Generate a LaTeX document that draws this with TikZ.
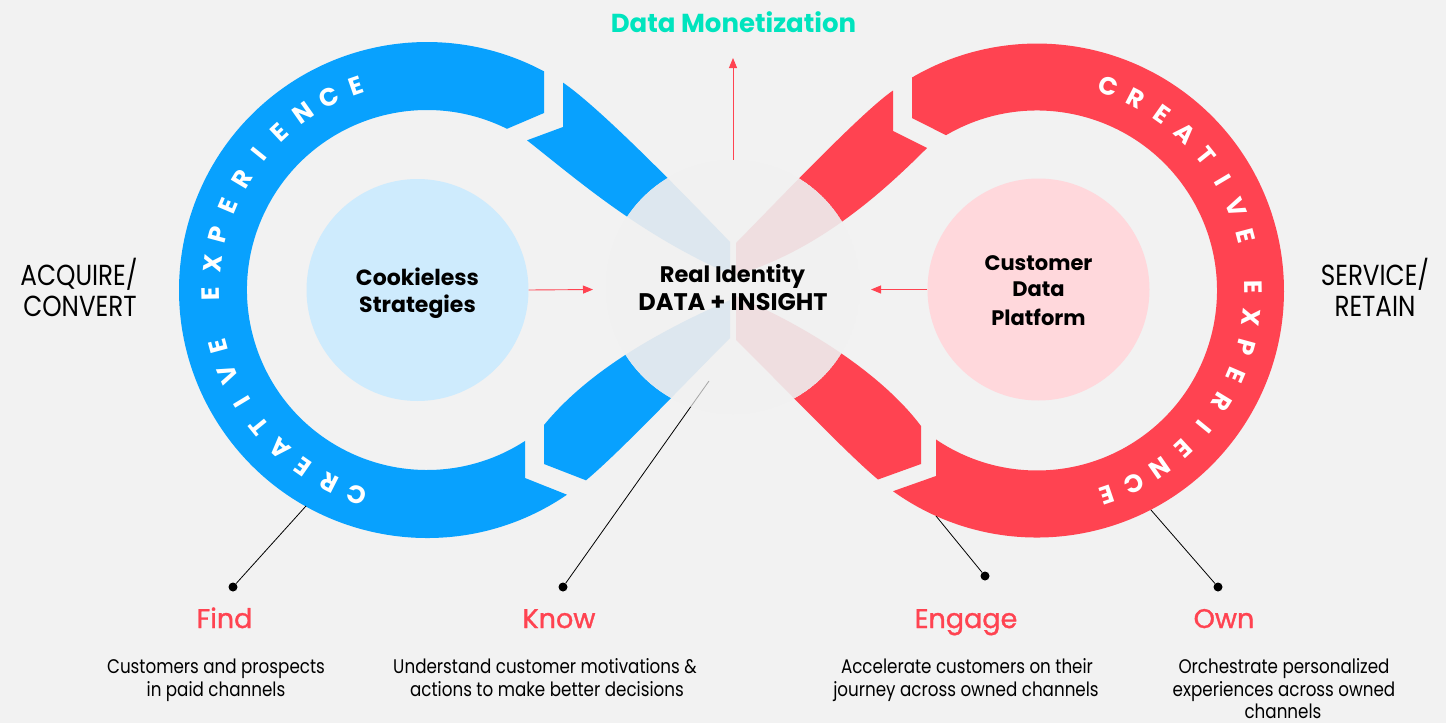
\documentclass[tikz,border=0pt]{standalone}
\usepackage{fontspec}
\setmainfont{Poppins}
\newfontfamily\condfont{Poppins}[FakeStretch=0.85]
\newfontfamily\medfont{Poppins}[FakeBold=1.2]
\usetikzlibrary{arrows.meta,calc}
\definecolor{bgc}{RGB}{242,242,242}
\definecolor{bluec}{RGB}{8,161,254}
\definecolor{redc}{RGB}{255,67,81}
\definecolor{lightbluec}{RGB}{206,235,253}
\definecolor{pinkc}{RGB}{255,216,220}
\definecolor{tealc}{RGB}{0,228,190}
\definecolor{fadeblue}{RGB}{221,231,239}
\definecolor{fadered}{RGB}{239,222,224}
\definecolor{hubc}{RGB}{241,241,241}
\newcommand\bandLT{(563,-82.6) -- (563,-127) -- (527,-140.3) .. controls (575,-178) and (640,-235) .. (730,-274) -- (730,-242) .. controls (680,-190) and (600,-108) .. (563,-82.6) -- cycle}
\newcommand\bandLB{(544,-425) -- (544,-464) -- (586,-480.3) .. controls (620,-452) and (690,-378) .. (730,-338) -- (730,-300) .. controls (650,-335) and (585,-375) .. (544,-425) -- cycle}
\newcommand\bandRT{(893,-90.5) -- (893,-131) -- (927,-148) .. controls (885,-190) and (820,-250) .. (736,-275) -- (736,-243) .. controls (786,-192) and (862,-112) .. (893,-90.5) -- cycle}
\newcommand\bandRB{(921,-426) -- (921,-464) -- (878,-479.5) .. controls (845,-452) and (775,-378) .. (736,-340) -- (736,-296) .. controls (815,-330) and (885,-378) .. (921,-426) -- cycle}
\begin{document}
\begin{tikzpicture}[x=1pt,y=1pt,
  ringletter/.style={font=\bfseries\fontsize{25}{25}\selectfont, text=white, inner sep=0pt},
  leader/.style={draw=black, line width=0.8pt},
  leaderfaint/.style={draw=black!35, line width=0.8pt},
  dotnode/.style={circle, fill=black, inner sep=0pt, minimum size=9pt},
  rarr/.style={draw=redc, line width=0.9pt, -{Triangle[length=10pt,width=8pt]}},
  sidetxt/.style={anchor=base, font=\condfont\fontsize{29}{32}\selectfont, text=black, inner sep=0pt},
  centtxt/.style={anchor=base, font=\bfseries\fontsize{22}{26}\selectfont, text=black, inner sep=0pt},
  cdptxt/.style={anchor=base, font=\bfseries\fontsize{21}{25}\selectfont, text=black, inner sep=0pt},
  steptitle/.style={anchor=base, font=\medfont\fontsize{27}{30}\selectfont, text=redc, inner sep=0pt},
  desctxt/.style={anchor=base, font=\condfont\fontsize{19.7}{24}\selectfont, text=black, inner sep=0pt},
  innercircle/.style={circle, inner sep=0pt, minimum size=222pt}
]
\fill[bgc] (0,-723) rectangle (1446,0);
\useasboundingbox (0,-723) rectangle (1446,0);

% inner circles
\node[innercircle, fill=lightbluec] (cookie) at (417.5,-290) {};
\node[innercircle, fill=pinkc] (cdp) at (1038.5,-289.5) {};

% rings
\fill[bluec] (544,-71.3) -- (544,-113) -- (507,-128.8)
  arc[start angle=63.6, end angle=303.0, radius=180]
  -- (525,-478) -- (567,-494.7)
  arc[start angle=-55.63, end angle=-298.14, radius=248] -- cycle;
\fill[redc] (912,-77.5) -- (912,-118) -- (946,-135.2)
  arc[start angle=120.37, end angle=-124.13, radius=180]
  -- (936,-476) -- (893,-491.2)
  arc[start angle=-125.66, end angle=120.41, radius=247] -- cycle;

% bands
\fill[bluec] \bandLT;
\fill[bluec] \bandLB;
\fill[redc] \bandRT;
\fill[redc] \bandRB;

% faded hub
\begin{scope}
  \clip (733,-287) circle[radius=127];
  \fill[hubc] (733,-287) circle[radius=127];
  \fill[fadeblue] \bandLT;
  \fill[fadeblue] \bandLB;
  \fill[fadered] \bandRT;
  \fill[fadered] \bandRB;
\end{scope}
\node[circle, inner sep=0pt, minimum size=254pt] (hub) at (733,-287) {};

% leaders and dots
\node[dotnode] (dotFind) at (233,-587) {};
\node[dotnode] (dotKnow) at (563,-587) {};
\node[dotnode] (dotEngage) at (985,-576) {};
\node[dotnode] (dotOwn) at (1218,-587) {};
\coordinate (ptFind) at (306,-506);
\coordinate (ptKnow) at (709,-381);
\coordinate (ptKnowExit) at (690.7,-406.8);
\coordinate (ptEngage) at (936,-516);
\coordinate (ptOwn) at (1151,-510);
\draw[leader] (ptFind) -- (dotFind);
\draw[leaderfaint] (ptKnow) -- (ptKnowExit);
\draw[leader] (ptKnowExit) -- (dotKnow);
\draw[leader] (ptEngage) -- (dotEngage);
\draw[leader] (ptOwn) -- (dotOwn);

% arrows
\coordinate (inL) at (593,-289.5);
\coordinate (inR) at (871,-289.5);
\coordinate (upTip) at (733,-58);
\draw[rarr] (cookie.east) -- (inL);
\draw[rarr] (cdp.west) -- (inR);
\draw[rarr] (hub.north) -- (upTip);

% ring letters
\coordinate (Lc) at (427,-290);
\coordinate (Rc) at (1037,-290.5);
\foreach \ch [count=\i from 0] in {C,R,E,A,T,I,V,E}{
  \pgfmathsetmacro\ang{251.1-8*\i}
  \node[ringletter, rotate=\ang-90] (lw\i) at ($(Lc)+(\ang:216)$) {\ch};
  \pgfmathsetmacro\angr{70.7-8*\i}
  \node[ringletter, rotate=\angr-90] (rw\i) at ($(Rc)+(\angr:216)$) {\ch};
}
\foreach \ch [count=\i from 0] in {E,X,P,E,R,I,E,N,C,E}{
  \pgfmathsetmacro\ang{181.1-8*\i}
  \node[ringletter, rotate=\ang-90] (lx\i) at ($(Lc)+(\ang:216)$) {\ch};
  \pgfmathsetmacro\angr{0.8-8*\i}
  \node[ringletter, rotate=\angr-90] (rx\i) at ($(Rc)+(\angr:216)$) {\ch};
}

% texts
\node[anchor=base, inner sep=0pt, font=\bfseries\fontsize{26}{30}\selectfont, text=tealc] (dm) at (733.5,-32.3) {Data Monetization};
\node[sidetxt] (acq1) at (79,-285) {ACQUIRE/};
\node[sidetxt] (acq2) at (80,-316) {CONVERT};
\node[sidetxt] (srv1) at (1375,-285) {SERVICE/};
\node[sidetxt] (srv2) at (1375,-316) {RETAIN};
\node[centtxt] (ck1) at (417.5,-285) {Cookieless};
\node[centtxt] (ck2) at (417.5,-312) {Strategies};
\node[anchor=base, inner sep=0pt, font=\bfseries\fontsize{22.5}{26}\selectfont] (ri1) at (732.5,-282.7) {Real Identity};
\node[anchor=base, inner sep=0pt, font=\bfseries\fontsize{24}{26}\selectfont] (ri2) at (733,-310.7) {DATA + INSIGHT};
\node[cdptxt] (cd1) at (1038.5,-270) {Customer};
\node[cdptxt] (cd2) at (1038.5,-296.7) {Data};
\node[cdptxt] (cd3) at (1038.5,-325) {Platform};

\node[steptitle] (tFind) at (224.5,-628) {Find};
\node[steptitle] (tKnow) at (559,-628) {Know};
\node[steptitle] (tEngage) at (966,-628) {Engage};
\node[steptitle] (tOwn) at (1224,-628) {Own};

\node[desctxt] (f1) at (216,-673) {Customers and prospects};
\node[desctxt] (f2) at (216,-696) {in paid channels};
\node[desctxt] (k1) at (545,-673) {Understand customer motivations \&};
\node[desctxt] (k2) at (547,-696) {actions to make better decisions};
\node[desctxt] (e1) at (967,-673) {Accelerate customers on their};
\node[desctxt] (e2) at (966,-696) {journey across owned channels};
\node[desctxt] (o1) at (1284,-673) {Orchestrate personalized};
\node[desctxt] (o2) at (1284,-696) {experiences across owned};
\node[desctxt] (o3) at (1283,-718) {channels};
\end{tikzpicture}
\end{document}
